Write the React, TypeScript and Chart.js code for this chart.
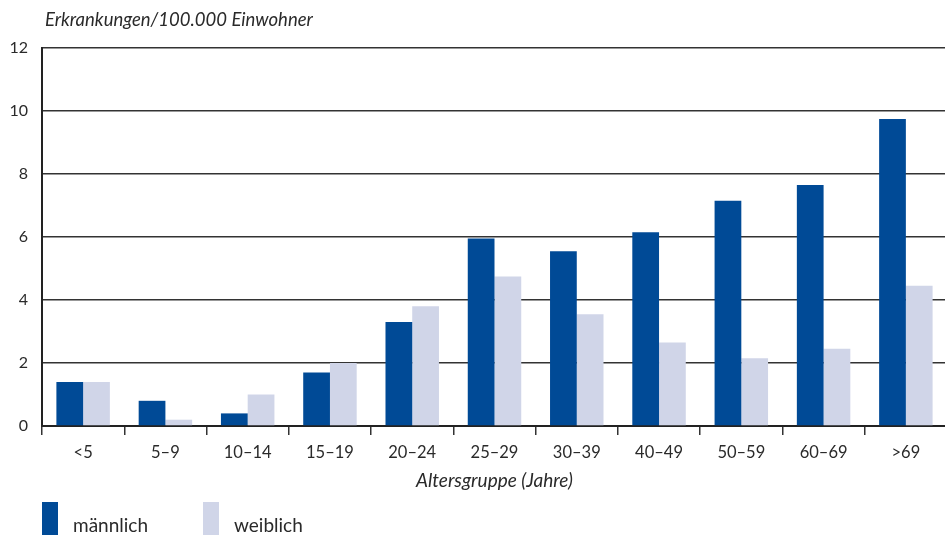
import React, { useEffect, useRef } from "react";
import { Chart, registerables } from "chart.js";

Chart.register(...registerables);

const categories = ["<5", "5–9", "10–14", "15–19", "20–24", "25–29", "30–39", "40–49", "50–59", "60–69", ">69"];
const maleValues = [1.4, 0.8, 0.4, 1.7, 3.3, 5.95, 5.55, 6.15, 7.15, 7.65, 9.75];
const femaleValues = [1.4, 0.2, 1.0, 2.0, 3.8, 4.75, 3.55, 2.65, 2.15, 2.45, 4.45];
const yTicks = [0, 2, 4, 6, 8, 10, 12];
const seriesLabels = ["männlich", "weiblich"];
const yTitle = "Erkrankungen/100.000 Einwohner";
const xTitle = "Altersgruppe (Jahre)";

const MALE = "#004a96";
const FEMALE = "#d0d5e8";
const FONT = "Lato";

const textPlugin = {
  id: "customText",
  afterDraw(chart: any) {
    const ctx = chart.ctx;
    ctx.save();
    ctx.fillStyle = "#2a2a2a";
    ctx.font = `italic 18.5px ${FONT}`;
    ctx.textAlign = "left";
    ctx.textBaseline = "alphabetic";
    ctx.fillText(yTitle, 45, 26);
    // legend
    ctx.font = `19px ${FONT}`;
    chart.data.datasets.forEach((ds: any, i: number) => {
      const x = 42 + i * 161;
      ctx.fillStyle = ds.backgroundColor;
      ctx.fillRect(x, 502, 16, 33);
      ctx.fillStyle = "#2a2a2a";
      ctx.fillText(ds.label, x + 31, 532);
    });
    ctx.restore();
  },
};

export default function App() {
  const ref = useRef<HTMLCanvasElement>(null);
  useEffect(() => {
    if (!ref.current) return;
    const chart = new Chart(ref.current, {
      type: "bar",
      data: {
        labels: categories,
        datasets: [
          { label: seriesLabels[0], data: maleValues, backgroundColor: MALE, categoryPercentage: 0.65, barPercentage: 1 },
          { label: seriesLabels[1], data: femaleValues, backgroundColor: FEMALE, categoryPercentage: 0.65, barPercentage: 1 },
        ],
      },
      options: {
        responsive: false,
        animation: false,
        devicePixelRatio: 1,
        layout: { padding: { top: 48, right: 3, bottom: 39, left: 0 } },
        plugins: { legend: { display: false }, tooltip: { enabled: false }, title: { display: false } },
        scales: {
          x: {
            offset: true,
            grid: { display: true, drawOnChartArea: false, drawTicks: true, tickLength: 9, color: "#333", lineWidth: 1.5 },
            border: { display: true, color: "#222", width: 2 },
            ticks: { color: "#2a2a2a", font: { family: FONT, size: 16.5 }, padding: 8, maxRotation: 0, autoSkip: false },
            title: { display: true, text: xTitle, color: "#2a2a2a", font: { family: FONT, size: 19, style: "italic" }, padding: { top: 0, bottom: 4 } },
            afterFit: (s: any) => { s.height = 70; },
          },
          y: {
            min: 0,
            max: 12,
            afterBuildTicks: (s: any) => { s.ticks = yTicks.map((v) => ({ value: v })); },
            grid: { color: "#333", lineWidth: 1.5, drawTicks: false },
            border: { display: true, color: "#222", width: 2 },
            ticks: { color: "#2a2a2a", font: { family: FONT, size: 16 }, padding: 14 },
            afterFit: (s: any) => { s.width = 42; },
          },
        },
      },
      plugins: [textPlugin],
    });
    return () => chart.destroy();
  }, []);
  return (
    <div style={{ position: "absolute", left: 0, top: 0, width: 945, height: 535, overflow: "hidden", background: "#fff" }}>
      <canvas ref={ref} width={950} height={535} style={{ width: 950, height: 535, display: "block" }} />
    </div>
  );
}
